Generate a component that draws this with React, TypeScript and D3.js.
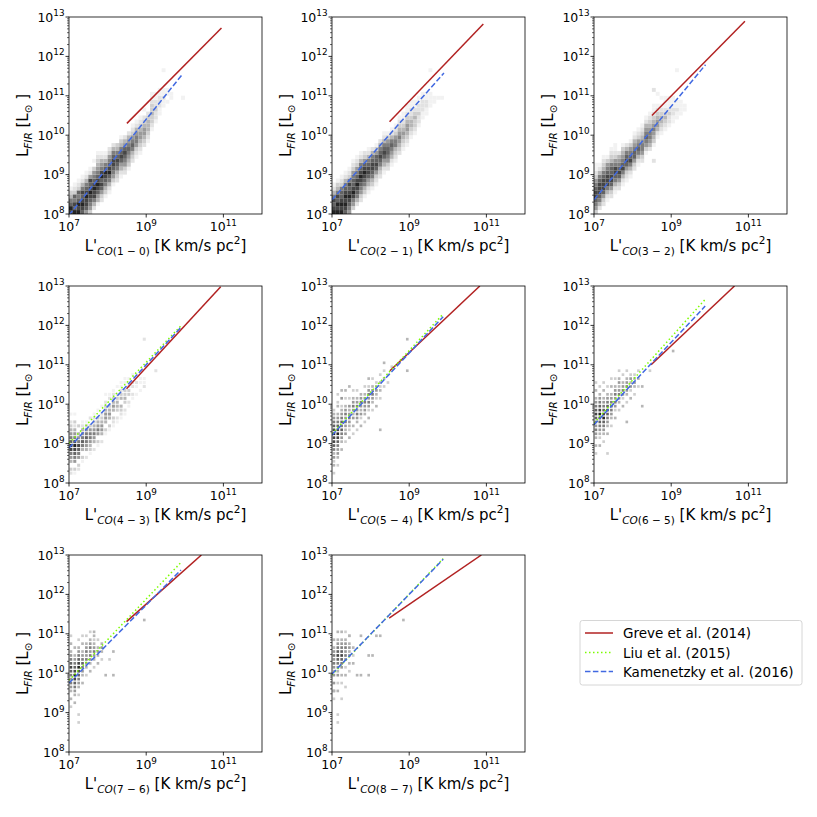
import React from "react";
import * as d3 from "d3";

// ---------- DATA ----------
const transitions = ["1 − 0", "2 − 1", "3 − 2", "4 − 3", "5 − 4", "6 − 5", "7 − 6", "8 − 7"];

const xTicks = [7, 9, 11];
const yTicks = [8, 9, 10, 11, 12, 13];

// Histogram columns: column i is log10 L'CO = 7 + 0.1 i ; "start:digits" gives
// density (0 empty .. 9 darkest) for log10 LFIR bins starting at 8 + 0.1*start.
const hist1 = [
  "0:8976431", "0:97867321", "0:989767321", "0:7898786421", "0:57889876421",
  "0:356789878521", "1:2468898765301", "2:14578987654321", "3:2357879865421",
  "4:134678976421", "5:124679876532", "7:13567887642", "8:2346787643",
  "9:12457876431", "10:2356787542", "11:1345676542", "13:2346765321",
  "14:1235665421", "15:1234554321", "17:2345543201", "18:12344432",
  "21:1233433211", "23:12232211", "25:1122211", "27:1121100001", "28:1011",
  "29:11", "", "", "29:1",
];
const hist2 = [
  "0:98786421", "0:989786431", "0:9898776321", "0:78989876421", "0:567898786321",
  "1:3568987765321", "2:2467898765321", "3:2356789876421", "4:134678987532",
  "5:124578876421", "6:13467887642", "7:12357877531", "9:2346787642",
  "10:12457876421", "11:2356776531", "12:1245676421", "13:1234665321",
  "15:2345654321", "16:1234543211", "17:12345543211", "19:1234432211",
  "20:123343211", "22:12232211", "24:1122211", "25:112211", "27:1111000001",
  "28:11", "", "29:1",
];
const hist3 = [
  "0:3567887653211", "1:246788876421", "2:2357888764321", "3:124688876531",
  "4:2357887764321", "5:1246788653211", "6:2357876542", "7:12468765431",
  "8:1235787642", "9:1246876531", "11:2357765421", "12:1246765321",
  "13:2356654321", "15:1356765421", "16:2456654321", "17:13456543211",
  "19:124554321", "20:1234432101", "21:123432111", "22:12232111",
  "23:1122111", "24:11211", "25:1111", "26:11",
];
const hist4 = [
  "2:2304568976543201", "2:1305678986542301", "3:230567865403", "5:13046765421",
  "6:2045676531", "7:1345665302", "8:2045654321", "9:1305654301",
  "10:2045543201", "12:13045543201", "13:1304543021", "14:1230454321",
  "15:1203443201", "16:1234043211", "17:1203433011", "19:12033211",
  "21:1202201", "22:101201", "23:1011", "25:11",
];
const hist5 = [
  "2:304354678898765430", "4:3045567898765404303", "8:40456767654305040",
  "10:305456565403040", "11:40345654503004", "12:3040545654030",
  "13:30456565403", "14:4035456540", "15:3045565403", "16:40356565304",
  "18:3045654030", "19:40345430", "21:3043403", "24:30403", "25:303",
];
const hist6 = [
  "7:3040456567876540403", "9:40345678987654030", "10:3045679876540403",
  "12:40456787654030", "14:3045676540403", "16:403565654030",
  "18:30456545403", "19:4035654030", "20:304565403", "21:40354530",
  "22:3045430", "24:30403",
];
const hist7 = [
  "11:3040456567876540403", "12:404567898765404", "14:3045678987654030",
  "17:4045676540403", "19:304565654030", "20:40456565403",
  "21:3045654304", "22:40454030", "23:304540",
];
const hist8 = [
  "13:3040505456565404", "15:40305456787654040", "17:304056787654040",
  "19:4030565654030", "20:3040545403", "22:403040",
];

// isolated cells: [log L'CO, log LFIR, density]
const extra1: number[][] = [[9.94, 10.9, 1]];
const extra2: number[][] = [[9.75, 10.9, 1]];
const extra3: number[][] = [[9.13, 11.62, 1], [8.57, 11.11, 2], [8.53, 9.38, 2], [8.65, 11.0, 1]];
const extra4: number[][] = [[8.94, 11.6, 2], [9.22, 10.89, 2], [8.9, 10.4, 2]];
const extra5: number[][] = [[8.92, 11.6, 4], [8.96, 10.88, 4], [8.3, 11.07, 4], [8.23, 9.35, 4], [8.5, 10.9, 3]];
const extra6: number[][] = [[8.27, 10.45, 4], [8.22, 9.94, 4], [7.36, 8.76, 3], [9.04, 11.38, 4], [7.8, 9.52, 4], [8.4, 10.8, 3]];
const extra7: number[][] = [[7.23, 8.74, 3], [7.29, 8.99, 3], [8.16, 10.54, 4], [8.11, 9.99, 4], [7.98, 9.9, 4], [7.6, 10.96, 4], [8.94, 11.36, 4], [8.05, 10.3, 3]];
const extra8: number[][] = [[7.13, 8.72, 3], [7.17, 8.98, 3], [7.26, 9.32, 3], [7.47, 10.92, 4], [7.73, 10.92, 4], [7.9, 10.4, 4], [8.03, 10.45, 4], [8.14, 10.92, 4], [8.23, 10.92, 4], [7.6, 9.9, 4], [7.73, 9.9, 4], [7.96, 9.94, 4], [8.81, 11.37, 4], [7.35, 9.6, 3], [7.05, 9.55, 4]];

const hists = [hist1, hist2, hist3, hist4, hist5, hist6, hist7, hist8];
const extras = [extra1, extra2, extra3, extra4, extra5, extra6, extra7, extra8];

// relations, endpoints in log10 [L'CO, LFIR]
const greve = [
  [[8.5, 10.3], [10.95, 12.72]],
  [[8.49, 10.34], [10.92, 12.82]],
  [[8.5, 10.5], [10.91, 12.89]],
  [[8.49, 10.39], [10.93, 12.98]],
  [[8.5, 10.85], [10.83, 13.0]],
  [[8.48, 11.0], [10.64, 13.0]],
  [[8.49, 11.31], [10.43, 13.0]],
  [[8.48, 11.4], [10.87, 13.0]],
];
const liu: (number[][] | null)[] = [
  null, null, null,
  [[7.0, 9.01], [9.9, 11.99]],
  [[7.0, 9.25], [9.88, 12.29]],
  [[7.0, 9.52], [9.88, 12.66]],
  [[7.0, 9.82], [9.9, 12.81]],
  [[7.0, 9.96], [9.88, 12.91]],
];
const kamenetzky = [
  [[7.0, 7.97], [9.95, 11.56]],
  [[7.0, 8.36], [9.9, 11.58]],
  [[7.0, 8.36], [9.89, 11.79]],
  [[7.0, 8.89], [9.9, 11.95]],
  [[7.0, 9.21], [9.88, 12.22]],
  [[7.0, 9.48], [9.88, 12.49]],
  [[7.0, 9.75], [9.9, 12.62]],
  [[7.0, 9.98], [9.88, 12.89]],
];

const legendLabels = ["Greve et al. (2014)", "Liu et al. (2015)", "Kamenetzky et al. (2016)"];

// ---------- LAYOUT ----------
const FONT = "DejaVu Sans, sans-serif";
const colLeft = [69, 332, 594];
const rowTop = [17, 286, 555];
const PW = 193;
const PH = 197;
const RED = "#b22222";
const GREEN = "#7cfc00";
const BLUE = "#4169e1";
const TICK_FS = 12.5;
const SUP_FS = 8.8;
const LABEL_FS = 15;
const SUB_FS = 10.5;
const cellShrink = [1, 1, 1, 0.78, 0.68, 0.68, 0.68, 0.68];

function parseCells(cols: string[], extra: number[][]) {
  const cells: { i: number; j: number; d: number }[] = [];
  cols.forEach((s, i) => {
    if (!s) return;
    const [st, digits] = s.split(":");
    const start = +st;
    for (let k = 0; k < digits.length; k++) {
      const d = +digits[k];
      if (d > 0) cells.push({ i, j: start + k, d });
    }
  });
  extra.forEach(([lx, ly, d]) => {
    cells.push({ i: Math.floor((lx - 7) / 0.1 + 1e-6), j: Math.floor((ly - 8) / 0.1 + 1e-6), d });
  });
  return cells;
}

function Panel({ idx }: { idx: number }) {
  const left = colLeft[idx % 3];
  const top = rowTop[Math.floor(idx / 3)];
  const x = d3.scaleLog().domain([1e7, 1e12]).range([left, left + PW]);
  const y = d3.scaleLog().domain([1e8, 1e13]).range([top + PH, top]);
  const cells = parseCells(hists[idx], extras[idx]);
  const shrink = cellShrink[idx];
  const line = d3
    .line<number[]>()
    .x((p) => x(Math.pow(10, p[0])))
    .y((p) => y(Math.pow(10, p[1])));
  const clipId = `clip${idx}`;
  const minor: number[] = [];
  for (let e = 8; e < 13; e++) for (let k = 2; k <= 9; k++) minor.push(Math.pow(10, e) * k);
  const lab = transitions[idx];
  return (
    <g>
      <defs>
        <clipPath id={clipId}>
          <rect x={left} y={top} width={PW} height={PH} />
        </clipPath>
      </defs>
      <g clipPath={`url(#${clipId})`}>
        {cells.map((c, k) => {
          const x0 = x(Math.pow(10, 7 + 0.1 * c.i));
          const x1 = x(Math.pow(10, 7 + 0.1 * (c.i + 1)));
          const y0 = y(Math.pow(10, 8 + 0.1 * (c.j + 1)));
          const y1 = y(Math.pow(10, 8 + 0.1 * c.j));
          const w = (x1 - x0) * shrink;
          const h = (y1 - y0) * shrink;
          return (
            <rect key={k} x={(x0 + x1 - w) / 2} y={(y0 + y1 - h) / 2} width={w} height={h}
              fill={d3.interpolateGreys(0.1 + 0.78 * (c.d - 1) / 8)} />
          );
        })}
        <path d={line(greve[idx]) || ""} stroke={RED} strokeWidth={1.5} fill="none" />
        {liu[idx] && (
          <path d={line(liu[idx] as number[][]) || ""} stroke={GREEN} strokeWidth={1.5}
            strokeDasharray="1.5,2.5" fill="none" />
        )}
        <path d={line(kamenetzky[idx]) || ""} stroke={BLUE} strokeWidth={1.5}
          strokeDasharray="5.5,2.4" fill="none" />
      </g>
      <rect x={left} y={top} width={PW} height={PH} fill="none" stroke="#000" strokeWidth={0.8} />
      {minor.map((v, k) => (
        <line key={k} x1={left} x2={left - 2} y1={y(v)} y2={y(v)} stroke="#000" strokeWidth={0.6} />
      ))}
      {yTicks.map((e) => (
        <g key={e}>
          <line x1={left} x2={left - 3.5} y1={y(Math.pow(10, e))} y2={y(Math.pow(10, e))} stroke="#000" strokeWidth={0.8} />
          <text x={left - 4.5} y={y(Math.pow(10, e)) + 4.5} textAnchor="end" fontFamily={FONT} fontSize={TICK_FS}>
            10<tspan fontSize={SUP_FS} dy={-5.5}>{e}</tspan>
          </text>
        </g>
      ))}
      {xTicks.map((e) => (
        <g key={e}>
          <line x1={x(Math.pow(10, e))} x2={x(Math.pow(10, e))} y1={top + PH} y2={top + PH + 3.5} stroke="#000" strokeWidth={0.8} />
          <text x={x(Math.pow(10, e))} y={top + PH + 17} textAnchor="middle" fontFamily={FONT} fontSize={TICK_FS}>
            10<tspan fontSize={SUP_FS} dy={-5.5}>{e}</tspan>
          </text>
        </g>
      ))}
      <text x={left + PW / 2} y={top + PH + 37} textAnchor="middle" fontFamily={FONT} fontSize={LABEL_FS}>
        L'<tspan fontSize={SUB_FS} dy={4} fontStyle="italic">CO</tspan>
        <tspan fontSize={SUB_FS}>({lab})</tspan>
        <tspan dy={-4}> [K km/s pc</tspan>
        <tspan fontSize={SUB_FS} dy={-7}>2</tspan>
        <tspan dy={7}>]</tspan>
      </text>
      <text transform={`translate(${left - 41},${top + PH / 2 + 10}) rotate(-90)`} textAnchor="middle"
        fontFamily={FONT} fontSize={LABEL_FS}>
        L<tspan fontSize={SUB_FS} dy={4} fontStyle="italic">FIR</tspan>
        <tspan dy={-4}> [L</tspan>
        <tspan fontSize={SUB_FS} dy={4}>⊙</tspan>
        <tspan dy={-4}> ]</tspan>
      </text>
    </g>
  );
}

function Legend() {
  const lx = 580, ly = 620.5, lw = 222, lh = 64.5;
  const rows = [633, 652.5, 671.5];
  const styles = [
    { stroke: RED, dash: undefined },
    { stroke: GREEN, dash: "1.5,2.5" },
    { stroke: BLUE, dash: "5.5,2.4" },
  ];
  return (
    <g>
      <rect x={lx} y={ly} width={lw} height={lh} rx={2.5} fill="#fff" fillOpacity={0.8} stroke="#cccccc" strokeWidth={0.8} />
      {legendLabels.map((t, k) => (
        <g key={t}>
          <line x1={585} x2={613} y1={rows[k]} y2={rows[k]} stroke={styles[k].stroke} strokeWidth={1.5}
            strokeDasharray={styles[k].dash} />
          <text x={623} y={rows[k] + 5} fontFamily={FONT} fontSize={13.5}>{t}</text>
        </g>
      ))}
    </g>
  );
}

export default function App() {
  return (
    <svg width={817} height={817} style={{ position: "absolute", left: 0, top: 0, background: "#fff" }}>
      <rect width={817} height={817} fill="#fff" />
      {transitions.map((_, i) => (
        <Panel key={i} idx={i} />
      ))}
      <Legend />
    </svg>
  );
}
